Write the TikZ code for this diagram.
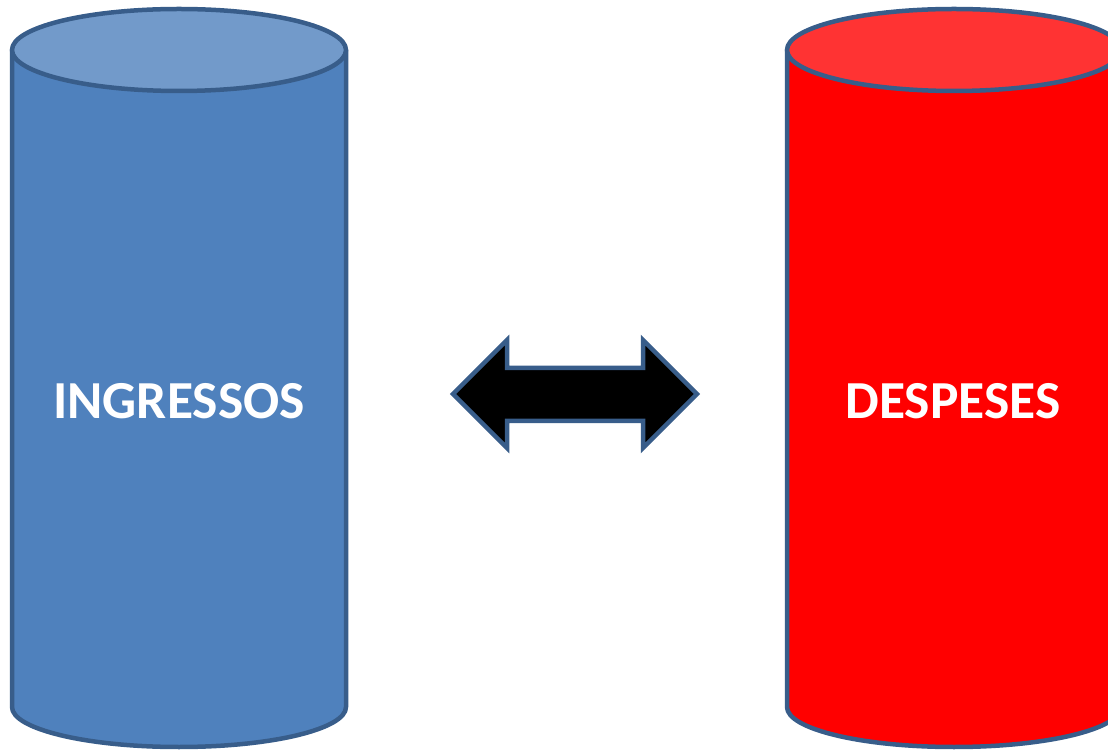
\documentclass[tikz,border=0pt]{standalone}
\usepackage{fontspec}
\setmainfont{Carlito}
\definecolor{edge}{RGB}{56,93,138}
\definecolor{bluebody}{RGB}{79,129,189}
\definecolor{bluetop}{RGB}{114,154,202}
\definecolor{redbody}{RGB}{255,0,0}
\definecolor{redtop}{RGB}{255,51,51}
\tikzset{
  outl/.style={draw=edge, line width=4.5pt, line join=round},
  lbl/.style={text=white, font=\fontsize{53.5}{58}\selectfont\bfseries, inner sep=0pt},
}
\begin{document}
\begin{tikzpicture}[x=1pt,y=1pt]
\useasboundingbox (0,0) rectangle (1108,750);
% left cylinder
\path[outl, fill=bluebody] (12,700) -- (12,43) arc[start angle=180,end angle=360,x radius=167,y radius=40] -- (346,700) -- cycle;
\path[outl, fill=bluetop] (179,700) ellipse[x radius=167,y radius=41];
% right cylinder
\path[outl, fill=redbody] (787,700) -- (787,43) arc[start angle=180,end angle=360,x radius=167,y radius=40] -- (1121,700) -- cycle;
\path[outl, fill=redtop] (954,700) ellipse[x radius=167,y radius=41];
% labels
\node[lbl] (ing) at (179,349) {INGRESSOS};
\node[lbl] (desp) at (953,349) {DESPESES};
% double arrow
\path[outl, line join=miter, fill=black] (453,356) -- (507,410) -- (507,382) -- (643,382) -- (643,410) -- (697,356) -- (643,302) -- (643,329) -- (507,329) -- (507,302) -- cycle;
\end{tikzpicture}
\end{document}
